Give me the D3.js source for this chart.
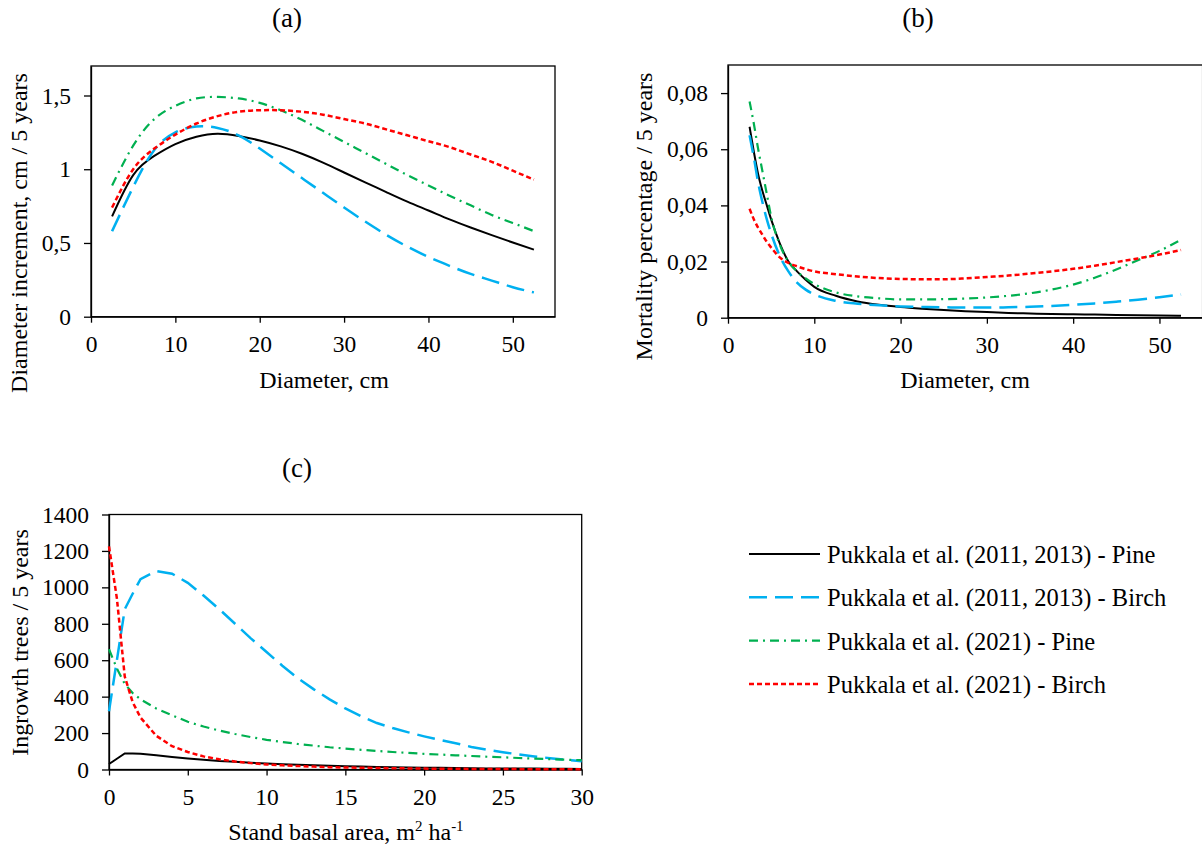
<!DOCTYPE html>
<html>
<head>
<meta charset="utf-8">
<script src="https://cdn.jsdelivr.net/npm/d3@7"></script>
<style>
  body { margin: 0; background: #fff; }
  svg { display: block; font-family: "Liberation Serif", "Times New Roman", serif; }
</style>
</head>
<body>
<div id="container"></div>
<script>
/* DATA */
const seriesNames = [
  "Pukkala et al. (2011, 2013) - Pine",
  "Pukkala et al. (2011, 2013) - Birch",
  "Pukkala et al. (2021) - Pine",
  "Pukkala et al. (2021) - Birch"
];

// (a) diameter increment, cm / 5 years
const diamA = [2.5, 5, 7.5, 10, 12.5, 15, 17.5, 20, 22.5, 25, 27.5, 30, 32.5, 35, 37.5, 40, 42.5, 45, 47.5, 50, 52.5];
const incPine11  = [0.68, 0.96, 1.09, 1.17, 1.22, 1.24, 1.225, 1.195, 1.155, 1.105, 1.045, 0.978, 0.911, 0.845, 0.78, 0.72, 0.66, 0.605, 0.553, 0.503, 0.455];
const incBirch11 = [0.58, 0.88, 1.13, 1.25, 1.29, 1.28, 1.23, 1.14, 1.04, 0.94, 0.84, 0.74, 0.645, 0.555, 0.475, 0.405, 0.345, 0.29, 0.245, 0.20, 0.165];
const incPine21  = [0.89, 1.16, 1.34, 1.43, 1.48, 1.49, 1.48, 1.45, 1.40, 1.335, 1.26, 1.185, 1.11, 1.035, 0.96, 0.89, 0.82, 0.755, 0.69, 0.635, 0.58];
const incBirch21 = [0.74, 1.00, 1.14, 1.235, 1.31, 1.36, 1.39, 1.40, 1.40, 1.39, 1.37, 1.34, 1.31, 1.27, 1.23, 1.19, 1.15, 1.10, 1.05, 0.99, 0.93];

// (b) mortality percentage / 5 years
const diamB = [2.5, 3, 3.5, 4, 4.5, 5, 6, 7, 8, 9, 10, 12.5, 15, 17.5, 20, 22.5, 25, 27.5, 30, 32.5, 35, 37.5, 40, 42.5, 45, 47.5, 50, 52.5];
const mortPine11  = [0.068, 0.059, 0.051, 0.045, 0.040, 0.035, 0.0265, 0.020, 0.0165, 0.0135, 0.0110, 0.0078, 0.0058, 0.0046, 0.0038, 0.0032, 0.0027, 0.0023, 0.0020, 0.0017, 0.0015, 0.0013, 0.0012, 0.0011, 0.0010, 0.0009, 0.0008, 0.0007];
const mortBirch11 = [0.065, 0.057, 0.048, 0.041, 0.035, 0.030, 0.022, 0.0165, 0.0125, 0.0100, 0.0083, 0.0060, 0.0050, 0.0044, 0.0040, 0.0038, 0.0037, 0.0036, 0.0036, 0.0037, 0.0039, 0.0042, 0.0046, 0.0051, 0.0057, 0.0064, 0.0073, 0.0083];
const mortPine21  = [0.077, 0.069, 0.060, 0.052, 0.044, 0.036, 0.026, 0.020, 0.0165, 0.014, 0.012, 0.009, 0.0076, 0.0069, 0.0065, 0.0065, 0.0066, 0.0068, 0.0072, 0.0078, 0.0087, 0.0100, 0.0118, 0.0142, 0.0172, 0.0205, 0.0238, 0.0278];
const mortBirch21 = [0.0388, 0.035, 0.032, 0.0295, 0.027, 0.025, 0.0215, 0.0195, 0.0183, 0.0173, 0.0165, 0.0155, 0.0147, 0.0141, 0.0138, 0.0137, 0.0137, 0.0140, 0.0145, 0.0150, 0.0157, 0.0165, 0.0174, 0.0185, 0.0198, 0.0211, 0.0225, 0.0241];

// (c) ingrowth trees / 5 years
const basalC = [0, 0.5, 1, 1.5, 2, 3, 4, 5, 6, 7, 8, 9, 10, 11, 12, 13, 14, 15, 16, 17, 18, 19, 20, 21, 22, 23, 24, 25, 26, 27, 28, 29, 30];
const ingPine11  = [30, 59, 88, 88, 87, 78, 69, 61, 54, 47, 42, 37, 33, 29, 26, 23, 20, 18, 16, 14, 13, 11, 10, 9, 8, 7, 6, 6, 5, 5, 4, 4, 3];
const ingBirch11 = [320, 600, 880, 965, 1045, 1090, 1075, 1025, 955, 880, 800, 720, 645, 570, 500, 440, 385, 335, 292, 255, 228, 204, 182, 162, 144, 124, 108, 95, 83, 72, 62, 53, 45];
const ingPine21  = [660, 555, 470, 420, 385, 335, 298, 262, 236, 214, 195, 178, 163, 151, 140, 131, 122, 115, 108, 102, 96, 91, 86, 82, 78, 74, 70, 67, 63, 60, 57, 54, 51];
const ingBirch21 = [1225, 940, 510, 370, 285, 185, 128, 96, 72, 56, 44, 35, 28, 23, 19, 16, 13, 11, 10, 8, 7, 6, 5, 4, 4, 3, 3, 3, 2, 2, 2, 2, 1];

/* STYLES */
const colors = ["#000000", "#00B0F0", "#00B050", "#FF0000"];
const dashes = [null, "18,8", "9,5,2,5", "5,3"];
const widths = [2, 2.5, 2.2, 2.5];

const width = 1202, height = 850;
const fmt = d3.formatLocale({decimal: ",", thousands: "", grouping: [3], currency: ["", ""]}).format("~g");

const svg = d3.select("#container")
  .append("svg")
  .attr("width", width)
  .attr("height", height);

function drawPanel(p) {
  const xScale = d3.scaleLinear().domain(p.xDomain).range([p.left, p.right]);
  const yScale = d3.scaleLinear().domain(p.yDomain).range([p.bottom, p.top]);

  svg.append("rect")
    .attr("x", p.left).attr("y", p.top)
    .attr("width", p.right - p.left).attr("height", p.bottom - p.top)
    .attr("fill", "none").attr("stroke", "#000").attr("stroke-width", 1.3);

  const xAxis = d3.axisBottom(xScale).tickValues(p.xTicks).tickSize(6).tickSizeOuter(0).tickPadding(13).tickFormat(fmt);
  const yAxis = d3.axisLeft(yScale).tickValues(p.yTicks).tickSize(7).tickSizeOuter(0).tickPadding(13).tickFormat(fmt);

  const gx = svg.append("g")
    .attr("transform", `translate(0,${p.bottom})`)
    .call(xAxis);
  const gy = svg.append("g")
    .attr("transform", `translate(${p.left},0)`)
    .call(yAxis);

  [gx, gy].forEach(g => {
    g.select(".domain").attr("stroke-width", 1.3);
    g.selectAll(".tick line").attr("stroke-width", 1.3);
    g.selectAll("text")
      .attr("font-family", "Liberation Serif, Times New Roman, serif")
      .attr("font-size", 23.5)
      .attr("fill", "#000");
  });

  const lineGen = d3.line()
    .x(d => xScale(d[0]))
    .y(d => yScale(d[1]))
    .curve(p.curve);

  p.series.forEach((vals, i) => {
    svg.append("path")
      .datum(p.xs.map((xv, j) => [xv, vals[j]]))
      .attr("fill", "none")
      .attr("stroke", colors[i])
      .attr("stroke-width", widths[i])
      .attr("stroke-dasharray", dashes[i])
      .attr("d", lineGen);
  });

  // titles and axis labels
  svg.append("text")
    .attr("x", p.titleX).attr("y", p.titleY)
    .attr("text-anchor", "middle").attr("font-size", 27)
    .text(p.title);

  const xl = svg.append("text")
    .attr("x", p.xLabelX).attr("y", p.xLabelY)
    .attr("text-anchor", "middle").attr("font-size", 24);
  p.xLabel(xl);

  svg.append("text")
    .attr("transform", `translate(${p.yLabelX},${p.yLabelY}) rotate(-90)`)
    .attr("text-anchor", "middle").attr("font-size", 24)
    .text(p.yLabel);
}

drawPanel({
  left: 91, right: 555, top: 66, bottom: 316.7,
  xDomain: [0, 55], yDomain: [0, 1.7],
  xTicks: [0, 10, 20, 30, 40, 50], yTicks: [0, 0.5, 1, 1.5],
  xs: diamA, series: [incPine11, incBirch11, incPine21, incBirch21],
  curve: d3.curveNatural,
  title: "(a)", titleX: 287, titleY: 27,
  xLabel: t => t.text("Diameter, cm"), xLabelX: 324, xLabelY: 388,
  yLabel: "Diameter increment, cm / 5 years", yLabelX: 27, yLabelY: 233
});

drawPanel({
  left: 728, right: 1202.6, top: 65, bottom: 317.7,
  xDomain: [0, 55], yDomain: [0, 0.09],
  xTicks: [0, 10, 20, 30, 40, 50], yTicks: [0, 0.02, 0.04, 0.06, 0.08],
  xs: diamB, series: [mortPine11, mortBirch11, mortPine21, mortBirch21],
  curve: d3.curveMonotoneX,
  title: "(b)", titleX: 918, titleY: 27,
  xLabel: t => t.text("Diameter, cm"), xLabelX: 965, xLabelY: 388,
  yLabel: "Mortality percentage / 5 years", yLabelX: 652, yLabelY: 216.5
});

drawPanel({
  left: 109, right: 581.7, top: 514.5, bottom: 769.5,
  xDomain: [0, 30], yDomain: [0, 1400],
  xTicks: [0, 5, 10, 15, 20, 25, 30], yTicks: [0, 200, 400, 600, 800, 1000, 1200, 1400],
  xs: basalC, series: [ingPine11, ingBirch11, ingPine21, ingBirch21],
  curve: d3.curveLinear,
  title: "(c)", titleX: 297, titleY: 477,
  xLabel: t => {
    t.append("tspan").text("Stand basal area, m");
    t.append("tspan").attr("font-size", 15).attr("dy", -9).text("2");
    t.append("tspan").attr("dy", 9).text(" ha");
    t.append("tspan").attr("font-size", 15).attr("dy", -9).text("-1");
  },
  xLabelX: 346, xLabelY: 840,
  yLabel: "Ingrowth trees / 5 years", yLabelX: 28, yLabelY: 642.5
});

// LEGEND
const legend = svg.append("g").attr("transform", "translate(749,554)");
seriesNames.forEach((name, i) => {
  const row = legend.append("g").attr("transform", `translate(0,${i * 43.3})`);
  row.append("line")
    .attr("x1", 0).attr("x2", 71).attr("y1", 0).attr("y2", 0)
    .attr("stroke", colors[i])
    .attr("stroke-width", widths[i])
    .attr("stroke-dasharray", dashes[i]);
  row.append("text")
    .attr("x", 78).attr("y", 9)
    .attr("font-size", 24.5)
    .text(name);
});
</script>
</body>
</html>
